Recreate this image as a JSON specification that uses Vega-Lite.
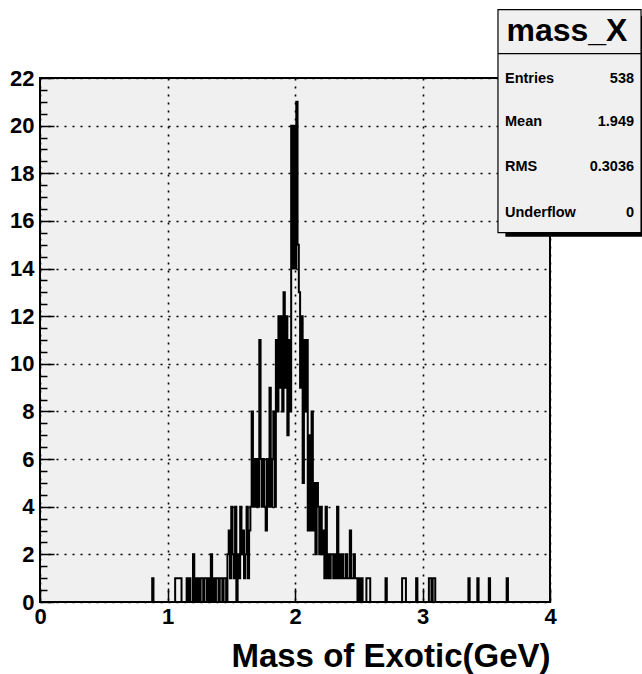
{
  "$schema": "https://vega.github.io/schema/vega-lite/v6.json",
  "width": 510,
  "height": 524,
  "autosize": "none",
  "padding": {"left": 40, "top": 78, "right": 92, "bottom": 72},
  "background": "white",
  "config": {
    "view": {"stroke": "black", "strokeWidth": 2, "fill": "#f0f0f0"},
    "font": "Liberation Sans"
  },
  "datasets": {
    "hist": [
      {"mass": 0, "entries": 0}, {"mass": 0.88, "entries": 1}, {"mass": 0.89, "entries": 0},
      {"mass": 1.06, "entries": 1}, {"mass": 1.07, "entries": 1}, {"mass": 1.08, "entries": 1}, {"mass": 1.09, "entries": 1}, {"mass": 1.10, "entries": 1}, {"mass": 1.11, "entries": 0},
      {"mass": 1.15, "entries": 1}, {"mass": 1.16, "entries": 0}, {"mass": 1.17, "entries": 1}, {"mass": 1.18, "entries": 0},
      {"mass": 1.20, "entries": 2}, {"mass": 1.21, "entries": 0}, {"mass": 1.22, "entries": 1}, {"mass": 1.23, "entries": 0}, {"mass": 1.24, "entries": 1}, {"mass": 1.25, "entries": 0},
      {"mass": 1.26, "entries": 1}, {"mass": 1.27, "entries": 1}, {"mass": 1.28, "entries": 0}, {"mass": 1.29, "entries": 1}, {"mass": 1.30, "entries": 1}, {"mass": 1.31, "entries": 0},
      {"mass": 1.32, "entries": 1}, {"mass": 1.33, "entries": 0}, {"mass": 1.34, "entries": 2}, {"mass": 1.35, "entries": 0}, {"mass": 1.36, "entries": 1}, {"mass": 1.37, "entries": 0},
      {"mass": 1.38, "entries": 1}, {"mass": 1.39, "entries": 1}, {"mass": 1.40, "entries": 0}, {"mass": 1.41, "entries": 1}, {"mass": 1.42, "entries": 1}, {"mass": 1.43, "entries": 0},
      {"mass": 1.44, "entries": 1}, {"mass": 1.45, "entries": 1}, {"mass": 1.46, "entries": 0}, {"mass": 1.47, "entries": 2}, {"mass": 1.48, "entries": 3}, {"mass": 1.49, "entries": 1},
      {"mass": 1.50, "entries": 4}, {"mass": 1.51, "entries": 2}, {"mass": 1.52, "entries": 1}, {"mass": 1.53, "entries": 4}, {"mass": 1.54, "entries": 0}, {"mass": 1.55, "entries": 2},
      {"mass": 1.56, "entries": 1}, {"mass": 1.57, "entries": 4}, {"mass": 1.58, "entries": 2}, {"mass": 1.59, "entries": 3}, {"mass": 1.60, "entries": 1}, {"mass": 1.61, "entries": 2},
      {"mass": 1.62, "entries": 4}, {"mass": 1.63, "entries": 1}, {"mass": 1.64, "entries": 3}, {"mass": 1.65, "entries": 4}, {"mass": 1.66, "entries": 8}, {"mass": 1.67, "entries": 4},
      {"mass": 1.68, "entries": 6}, {"mass": 1.69, "entries": 4}, {"mass": 1.70, "entries": 6}, {"mass": 1.71, "entries": 4}, {"mass": 1.72, "entries": 11}, {"mass": 1.73, "entries": 6},
      {"mass": 1.74, "entries": 4}, {"mass": 1.75, "entries": 6}, {"mass": 1.76, "entries": 4}, {"mass": 1.77, "entries": 3}, {"mass": 1.78, "entries": 6}, {"mass": 1.79, "entries": 4},
      {"mass": 1.80, "entries": 9}, {"mass": 1.81, "entries": 4}, {"mass": 1.82, "entries": 6}, {"mass": 1.83, "entries": 8}, {"mass": 1.84, "entries": 4}, {"mass": 1.85, "entries": 11},
      {"mass": 1.86, "entries": 8}, {"mass": 1.87, "entries": 12}, {"mass": 1.88, "entries": 9}, {"mass": 1.89, "entries": 12}, {"mass": 1.90, "entries": 8}, {"mass": 1.91, "entries": 13},
      {"mass": 1.92, "entries": 9}, {"mass": 1.93, "entries": 12}, {"mass": 1.94, "entries": 7}, {"mass": 1.95, "entries": 11}, {"mass": 1.96, "entries": 8}, {"mass": 1.97, "entries": 20},
      {"mass": 1.98, "entries": 14}, {"mass": 1.99, "entries": 20}, {"mass": 2.00, "entries": 14}, {"mass": 2.01, "entries": 21}, {"mass": 2.02, "entries": 15}, {"mass": 2.03, "entries": 13},
      {"mass": 2.04, "entries": 9}, {"mass": 2.05, "entries": 12}, {"mass": 2.06, "entries": 5}, {"mass": 2.07, "entries": 11}, {"mass": 2.08, "entries": 8}, {"mass": 2.09, "entries": 11},
      {"mass": 2.10, "entries": 3}, {"mass": 2.11, "entries": 7}, {"mass": 2.12, "entries": 3}, {"mass": 2.13, "entries": 8}, {"mass": 2.14, "entries": 3}, {"mass": 2.15, "entries": 5},
      {"mass": 2.16, "entries": 2}, {"mass": 2.17, "entries": 5}, {"mass": 2.18, "entries": 4}, {"mass": 2.19, "entries": 2}, {"mass": 2.20, "entries": 4}, {"mass": 2.21, "entries": 2},
      {"mass": 2.22, "entries": 3}, {"mass": 2.23, "entries": 1}, {"mass": 2.24, "entries": 4}, {"mass": 2.25, "entries": 1}, {"mass": 2.26, "entries": 2}, {"mass": 2.27, "entries": 1},
      {"mass": 2.28, "entries": 2}, {"mass": 2.29, "entries": 2}, {"mass": 2.30, "entries": 1}, {"mass": 2.31, "entries": 2}, {"mass": 2.32, "entries": 1}, {"mass": 2.33, "entries": 4},
      {"mass": 2.34, "entries": 1}, {"mass": 2.35, "entries": 2}, {"mass": 2.36, "entries": 1}, {"mass": 2.37, "entries": 2}, {"mass": 2.38, "entries": 1}, {"mass": 2.39, "entries": 1},
      {"mass": 2.40, "entries": 2}, {"mass": 2.41, "entries": 1}, {"mass": 2.42, "entries": 1}, {"mass": 2.43, "entries": 3}, {"mass": 2.44, "entries": 1}, {"mass": 2.45, "entries": 1},
      {"mass": 2.46, "entries": 2}, {"mass": 2.47, "entries": 1}, {"mass": 2.48, "entries": 1}, {"mass": 2.49, "entries": 0}, {"mass": 2.50, "entries": 1}, {"mass": 2.51, "entries": 0},
      {"mass": 2.52, "entries": 1}, {"mass": 2.53, "entries": 0}, {"mass": 2.56, "entries": 1}, {"mass": 2.57, "entries": 1}, {"mass": 2.58, "entries": 1}, {"mass": 2.59, "entries": 0},
      {"mass": 2.71, "entries": 1}, {"mass": 2.72, "entries": 0}, {"mass": 2.84, "entries": 1}, {"mass": 2.85, "entries": 1}, {"mass": 2.86, "entries": 1}, {"mass": 2.87, "entries": 0},
      {"mass": 2.95, "entries": 1}, {"mass": 2.96, "entries": 0}, {"mass": 3.05, "entries": 1}, {"mass": 3.06, "entries": 1}, {"mass": 3.07, "entries": 0}, {"mass": 3.08, "entries": 1},
      {"mass": 3.09, "entries": 1}, {"mass": 3.10, "entries": 0}, {"mass": 3.36, "entries": 1}, {"mass": 3.37, "entries": 0}, {"mass": 3.43, "entries": 1}, {"mass": 3.44, "entries": 0},
      {"mass": 3.52, "entries": 1}, {"mass": 3.53, "entries": 0}, {"mass": 3.66, "entries": 1}, {"mass": 3.67, "entries": 0}, {"mass": 4.0, "entries": 0}
    ],
    "box": [{"title": "mass_X"}],
    "stats": [
      {"stat": "Entries", "value": "538"},
      {"stat": "Mean", "value": "1.949"},
      {"stat": "RMS", "value": "0.3036"},
      {"stat": "Underflow", "value": "0"}
    ]
  },
  "layer": [
    {
      "data": {"name": "hist"},
      "mark": {"type": "line", "interpolate": "step-after", "color": "black", "strokeWidth": 2},
      "encoding": {
        "x": {"field": "mass", "type": "quantitative", "scale": {"domain": [0, 4], "nice": false, "zero": false},
          "axis": {"orient": "bottom", "values": [0, 1, 2, 3, 4], "format": "d", "ticks": false, "domain": false,
            "grid": true, "gridColor": "black", "gridDash": [2, 6], "gridWidth": 1.6,
            "labelFont": "Liberation Sans", "labelFontWeight": "bold", "labelFontSize": 22, "labelColor": "black",
            "labelPadding": 4, "labelFlush": false, "labelOverlap": false,
            "title": "Mass of Exotic(GeV)", "titleFont": "Liberation Sans", "titleFontSize": 33, "titleFontWeight": "bold",
            "titleColor": "black", "titleAnchor": "end", "titlePadding": 13}},
        "y": {"field": "entries", "type": "quantitative", "scale": {"domain": [0, 22], "nice": false, "zero": false},
          "axis": {"orient": "left", "values": [0, 2, 4, 6, 8, 10, 12, 14, 16, 18, 20, 22], "format": "d", "ticks": false, "domain": false,
            "grid": true, "gridColor": "black", "gridDash": [2, 6], "gridWidth": 1.6,
            "labelFont": "Liberation Sans", "labelFontWeight": "bold", "labelFontSize": 22, "labelColor": "black",
            "labelPadding": 6, "labelFlush": false, "labelOverlap": false, "title": null}}
      }
    },
    {
      "data": {"name": "hist"},
      "mark": {"type": "line", "opacity": 0},
      "encoding": {
        "x": {"field": "mass", "type": "quantitative", "scale": {"domain": [0, 4], "nice": false, "zero": false},
          "axis": {"orient": "bottom", "values": [0, 1, 2, 3, 4], "ticks": true, "tickSize": -14, "tickColor": "black", "tickWidth": 1.5,
            "labels": false, "grid": false, "domain": false, "title": null}},
        "y": {"field": "entries", "type": "quantitative", "scale": {"domain": [0, 22], "nice": false, "zero": false},
          "axis": {"orient": "left", "values": [0, 2, 4, 6, 8, 10, 12, 14, 16, 18, 20, 22], "ticks": true, "tickSize": -14, "tickColor": "black", "tickWidth": 1.5,
            "labels": false, "grid": false, "domain": false, "title": null}}
      }
    },
    {
      "data": {"name": "hist"},
      "mark": {"type": "line", "opacity": 0},
      "encoding": {
        "x": {"field": "mass", "type": "quantitative", "scale": {"domain": [0, 4], "nice": false, "zero": false}, "axis": null},
        "y": {"field": "entries", "type": "quantitative", "scale": {"domain": [0, 22], "nice": false, "zero": false},
          "axis": {"orient": "left", "values": [0.5, 1, 1.5, 2.5, 3, 3.5, 4.5, 5, 5.5, 6.5, 7, 7.5, 8.5, 9, 9.5, 10.5, 11, 11.5, 12.5, 13, 13.5, 14.5, 15, 15.5, 16.5, 17, 17.5, 18.5, 19, 19.5, 20.5, 21, 21.5],
            "ticks": true, "tickSize": -7, "tickColor": "black", "tickWidth": 1.5,
            "labels": false, "grid": false, "domain": false, "title": null}}
      }
    },
    {
      "data": {"name": "box"},
      "mark": {"type": "rect", "color": "black", "clip": false},
      "encoding": {
        "x": {"datum": 3.65, "type": "quantitative", "axis": null, "scale": {"domain": [0, 4], "nice": false, "zero": false}},
        "x2": {"datum": 4.8},
        "y": {"datum": 24.6, "type": "quantitative", "axis": null, "scale": {"domain": [0, 22], "nice": false, "zero": false}},
        "y2": {"datum": 15.336}
      }
    },
    {
      "data": {"name": "box"},
      "mark": {"type": "rect", "fill": "#f0f0f0", "stroke": "black", "strokeWidth": 1.2, "clip": false},
      "encoding": {
        "x": {"datum": 3.592, "type": "quantitative", "axis": null, "scale": {"domain": [0, 4], "nice": false, "zero": false}},
        "x2": {"datum": 4.714},
        "y": {"datum": 24.874, "type": "quantitative", "axis": null, "scale": {"domain": [0, 22], "nice": false, "zero": false}},
        "y2": {"datum": 15.504}
      }
    },
    {
      "data": {"name": "box"},
      "mark": {"type": "rule", "color": "black", "strokeWidth": 1.2, "clip": false},
      "encoding": {
        "x": {"datum": 3.592, "type": "quantitative", "axis": null, "scale": {"domain": [0, 4], "nice": false, "zero": false}},
        "x2": {"datum": 4.714},
        "y": {"datum": 23.025, "type": "quantitative", "axis": null, "scale": {"domain": [0, 22], "nice": false, "zero": false}}
      }
    },
    {
      "data": {"name": "box"},
      "mark": {"type": "text", "font": "Liberation Sans", "fontWeight": "bold", "fontSize": 32, "align": "center", "baseline": "alphabetic", "color": "black", "clip": false},
      "encoding": {
        "text": {"field": "title"},
        "x": {"datum": 4.133, "type": "quantitative", "axis": null, "scale": {"domain": [0, 4], "nice": false, "zero": false}},
        "y": {"datum": 23.54, "type": "quantitative", "axis": null, "scale": {"domain": [0, 22], "nice": false, "zero": false}}
      }
    },
    {"data": {"name": "stats"}, "transform": [{"filter": "datum.stat == 'Entries'"}],
      "mark": {"type": "text", "font": "Liberation Sans", "fontWeight": "bold", "fontSize": 14.5, "align": "left", "baseline": "alphabetic", "color": "black", "clip": false},
      "encoding": {"text": {"field": "stat"},
        "x": {"datum": 3.647, "type": "quantitative", "axis": null, "scale": {"domain": [0, 4], "nice": false, "zero": false}},
        "y": {"datum": 21.8, "type": "quantitative", "axis": null, "scale": {"domain": [0, 22], "nice": false, "zero": false}}}},
    {"data": {"name": "stats"}, "transform": [{"filter": "datum.stat == 'Entries'"}],
      "mark": {"type": "text", "font": "Liberation Sans", "fontWeight": "bold", "fontSize": 14.5, "align": "right", "baseline": "alphabetic", "color": "black", "clip": false},
      "encoding": {"text": {"field": "value"},
        "x": {"datum": 4.659, "type": "quantitative", "axis": null, "scale": {"domain": [0, 4], "nice": false, "zero": false}},
        "y": {"datum": 21.8, "type": "quantitative", "axis": null, "scale": {"domain": [0, 22], "nice": false, "zero": false}}}},
    {"data": {"name": "stats"}, "transform": [{"filter": "datum.stat == 'Mean'"}],
      "mark": {"type": "text", "font": "Liberation Sans", "fontWeight": "bold", "fontSize": 14.5, "align": "left", "baseline": "alphabetic", "color": "black", "clip": false},
      "encoding": {"text": {"field": "stat"},
        "x": {"datum": 3.647, "type": "quantitative", "axis": null, "scale": {"domain": [0, 4], "nice": false, "zero": false}},
        "y": {"datum": 19.97, "type": "quantitative", "axis": null, "scale": {"domain": [0, 22], "nice": false, "zero": false}}}},
    {"data": {"name": "stats"}, "transform": [{"filter": "datum.stat == 'Mean'"}],
      "mark": {"type": "text", "font": "Liberation Sans", "fontWeight": "bold", "fontSize": 14.5, "align": "right", "baseline": "alphabetic", "color": "black", "clip": false},
      "encoding": {"text": {"field": "value"},
        "x": {"datum": 4.659, "type": "quantitative", "axis": null, "scale": {"domain": [0, 4], "nice": false, "zero": false}},
        "y": {"datum": 19.97, "type": "quantitative", "axis": null, "scale": {"domain": [0, 22], "nice": false, "zero": false}}}},
    {"data": {"name": "stats"}, "transform": [{"filter": "datum.stat == 'RMS'"}],
      "mark": {"type": "text", "font": "Liberation Sans", "fontWeight": "bold", "fontSize": 14.5, "align": "left", "baseline": "alphabetic", "color": "black", "clip": false},
      "encoding": {"text": {"field": "stat"},
        "x": {"datum": 3.647, "type": "quantitative", "axis": null, "scale": {"domain": [0, 4], "nice": false, "zero": false}},
        "y": {"datum": 18.08, "type": "quantitative", "axis": null, "scale": {"domain": [0, 22], "nice": false, "zero": false}}}},
    {"data": {"name": "stats"}, "transform": [{"filter": "datum.stat == 'RMS'"}],
      "mark": {"type": "text", "font": "Liberation Sans", "fontWeight": "bold", "fontSize": 14.5, "align": "right", "baseline": "alphabetic", "color": "black", "clip": false},
      "encoding": {"text": {"field": "value"},
        "x": {"datum": 4.659, "type": "quantitative", "axis": null, "scale": {"domain": [0, 4], "nice": false, "zero": false}},
        "y": {"datum": 18.08, "type": "quantitative", "axis": null, "scale": {"domain": [0, 22], "nice": false, "zero": false}}}},
    {"data": {"name": "stats"}, "transform": [{"filter": "datum.stat == 'Underflow'"}],
      "mark": {"type": "text", "font": "Liberation Sans", "fontWeight": "bold", "fontSize": 14.5, "align": "left", "baseline": "alphabetic", "color": "black", "clip": false},
      "encoding": {"text": {"field": "stat"},
        "x": {"datum": 3.647, "type": "quantitative", "axis": null, "scale": {"domain": [0, 4], "nice": false, "zero": false}},
        "y": {"datum": 16.16, "type": "quantitative", "axis": null, "scale": {"domain": [0, 22], "nice": false, "zero": false}}}},
    {"data": {"name": "stats"}, "transform": [{"filter": "datum.stat == 'Underflow'"}],
      "mark": {"type": "text", "font": "Liberation Sans", "fontWeight": "bold", "fontSize": 14.5, "align": "right", "baseline": "alphabetic", "color": "black", "clip": false},
      "encoding": {"text": {"field": "value"},
        "x": {"datum": 4.659, "type": "quantitative", "axis": null, "scale": {"domain": [0, 4], "nice": false, "zero": false}},
        "y": {"datum": 16.16, "type": "quantitative", "axis": null, "scale": {"domain": [0, 22], "nice": false, "zero": false}}}}
  ],
  "resolve": {"axis": {"x": "independent", "y": "independent"}}
}
